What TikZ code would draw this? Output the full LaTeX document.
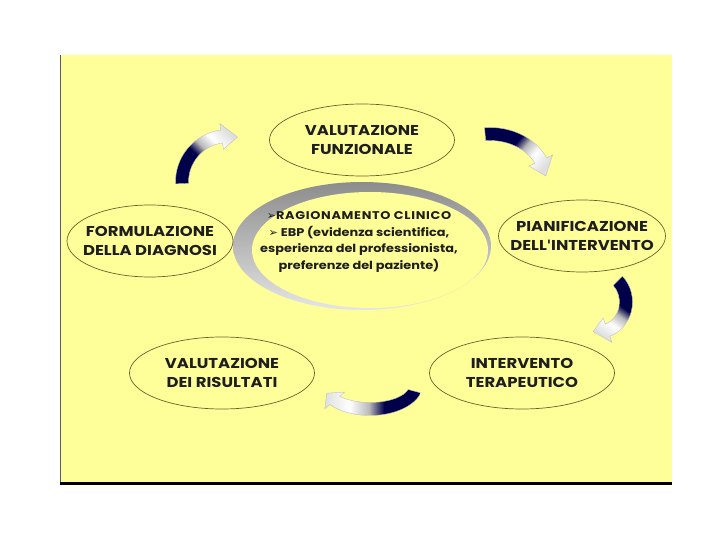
\documentclass[tikz,border=0pt]{standalone}
\usepackage{fontspec}
\setmainfont[FakeStretch=1.15]{Poppins}
\newfontfamily\symfont{DejaVu Sans}
\usetikzlibrary{shapes.geometric}

\definecolor{panelyellow}{HTML}{FFFF99}
\definecolor{rimbrown}{HTML}{6B5F2E}
\definecolor{inkgray}{HTML}{1E1E1E}
\definecolor{arrownavy}{HTML}{00004A}
% dark tail, light head
\pgfdeclarehorizontalshading{arrowshade}{100bp}{color(0bp)=(arrownavy); color(25bp)=(arrownavy); color(44bp)=(arrownavy); color(52bp)=(gray!55); color(62bp)=(white); color(75bp)=(gray!25); color(100bp)=(gray!25)}

\begin{document}
\begin{tikzpicture}
	[x=1pt,y=-1pt,
	stage/.style={ellipse, draw=rimbrown, line width=0.7pt, fill=panelyellow, minimum width=185pt, minimum height=72pt, inner xsep=-25pt, inner ysep=0pt, align=center, text=inkgray, font=\bfseries\fontsize{14.3}{19}\selectfont},
	coretext/.style={align=center, text=inkgray, inner sep=0pt, font=\bfseries\fontsize{11.2}{16.5}\selectfont},
	cyclearrow/.style={shading=arrowshade, draw=gray!50, line width=0.4pt}]

	\useasboundingbox (0,0) rectangle (720,540);
	\fill[white] (0,0) rectangle (720,540);

	% panel
	\fill[panelyellow] (60,55) rectangle (672,483);
	\draw[gray!70!black, line width=1pt] (60,55) -- (60,483);
	\draw[black, line width=3pt] (60,483) -- (672,483);

	% centre
	\shade[top color=gray!90, bottom color=gray!20] (362,246) ellipse [x radius=129, y radius=64];
	\node[ellipse, fill=panelyellow, minimum width=236pt, minimum height=116pt] (corebg) at (370,250) {};
	\node[coretext] (core) at (359,242) {{\addfontfeature{LetterSpace=6}{\symfont\char"27A2}RAGIONAMENTO CLINICO}\\{\symfont\char"27A2} EBP (evidenza scientifica,\\esperienza del professionista,\\preferenze del paziente)};

	% stages
	\node[stage] (funz) at (362,140) {VALUTAZIONE\\FUNZIONALE};
	\node[stage, minimum width=166pt] (diagn) at (150,241) {FORMULAZIONE\\DELLA DIAGNOSI};
	\node[stage, minimum width=167pt] (pianif) at (582,236) {PIANIFICAZIONE\\DELL{\symfont\bfseries\symbol{39}}INTERVENTO};
	\node[stage] (risult) at (222,373) {VALUTAZIONE\\DEI RISULTATI};
	\node[stage] (terap) at (522,373) {INTERVENTO\\TERAPEUTICO};

	% arrows
	\shade[cyclearrow, shading angle=45, shift={(228,182)}]
		(178:52.5) arc[start angle=178, end angle=262, radius=52.5] -- (262:59) -- (282:46)
		-- (262:33) -- (262:39.5) arc[start angle=262, end angle=178, radius=39.5] -- cycle;
	\shade[cyclearrow, shading angle=-40, shift={(490,180)}]
		(265:62.5 and 52.5) arc[start angle=265, end angle=335, x radius=62.5, y radius=52.5] -- (335:69 and 59) -- (355:56 and 46)
		-- (335:43 and 33) -- (335:49.5 and 39.5) arc[start angle=335, end angle=265, x radius=49.5, y radius=39.5] -- cycle;
	\shade[cyclearrow, shading angle=235, shift={(598,302)}]
		(315:34.5 and 36.5) arc[start angle=315, end angle=430, x radius=34.5, y radius=36.5] -- (430:41 and 43) -- (460:28 and 30)
		-- (430:15 and 17) -- (430:21.5 and 23.5) arc[start angle=430, end angle=315, x radius=21.5, y radius=23.5] -- cycle;
	\shade[cyclearrow, shading angle=180, shift={(370,385)}]
		(15:52.5 and 30.5) arc[start angle=15, end angle=140, x radius=52.5, y radius=30.5] -- (140:59 and 37) -- (160:46 and 24)
		-- (140:33 and 11) -- (140:39.5 and 17.5) arc[start angle=140, end angle=15, x radius=39.5, y radius=17.5] -- cycle;
\end{tikzpicture}
\end{document}
